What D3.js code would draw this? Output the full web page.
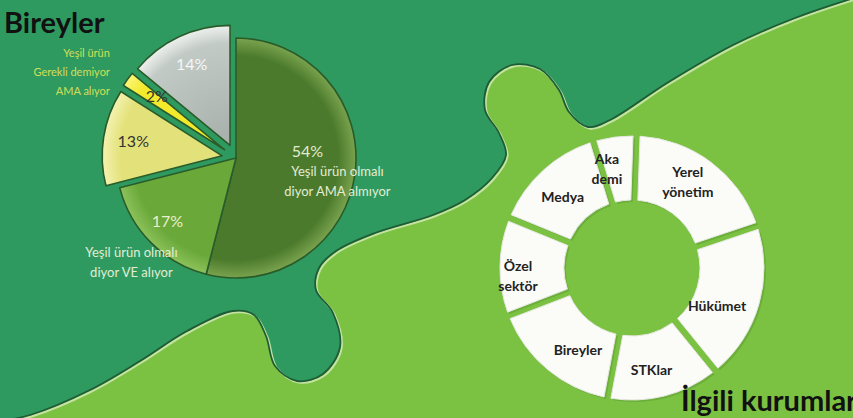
<!DOCTYPE html>
<html>
<head>
<meta charset="utf-8">
<script src="https://cdn.jsdelivr.net/npm/d3@7"></script>
<style>
  body { margin: 0; background: #2e9a60; }
  svg { display: block; font-family: Lato, "Open Sans", sans-serif; }
</style>
</head>
<body>
<svg id="chart" width="853" height="418"></svg>
<script>
// pie: Bireyler
var pieKeys = ["olmali_almiyor", "olmali_aliyor", "diger13", "gerekli_degil_aliyor", "diger14"];
var pieValues = [54, 17, 13, 2, 14];
var pieDesc = [["Yeşil ürün olmalı", "diyor AMA almıyor"], ["Yeşil ürün olmalı", "diyor VE alıyor"], [], ["Yeşil ürün", "Gerekli demiyor", "AMA alıyor"], []];

// donut: İlgili kurumlar (clockwise from top)
var orgLabels = [["Aka", "demi"], ["Yerel", "yönetim"], ["Hükümet"], ["STKlar"], ["Bireyler"], ["Özel", "sektör"], ["Medya"]];
var orgValues = [16, 70, 70, 49, 58, 42, 50];

var svg = d3.select("#chart");
var W = 853, H = 418;

// background puzzle shapes
svg.append("rect").attr("width", W).attr("height", H).attr("fill", "#2e9a60");
var edge = [[-5, 422], [30, 415], [90, 390], [140, 361], [187, 331], [233, 311], [254, 315], [266, 336],
    [275, 366], [297, 381], [323, 374], [340, 347], [333, 313], [316, 290], [319, 268], [336, 251],
    [375, 233], [433, 215], [465, 200], [492, 178], [506, 155], [499, 133], [485, 110], [489, 82],
    [512, 65], [540, 69], [559, 90], [569, 112], [588, 127], [610, 120], [667, 83], [733, 45], [795, 18], [860, -4]];
var edgeLine = d3.line().curve(d3.curveCatmullRom.alpha(0.5));
svg.append("path")
    .attr("d", edgeLine(edge) + "L860,425L-5,425Z")
    .attr("fill", "#7cc242");
svg.append("path")
    .attr("d", edgeLine(edge))
    .attr("fill", "none").attr("stroke", "#c4e3a4").attr("stroke-width", 2)
    .attr("transform", "translate(1.5,1.5)");
svg.append("path")
    .attr("d", edgeLine(edge))
    .attr("fill", "none").attr("stroke", "#1e5c36").attr("stroke-width", 1.8);

// ---------- pie ----------
var cx = 236, cy = 158, R = 120;
var pieColors = ["#4b7a2c", "#6aa83a", "#e3e27a", "#f3ea2c", "#c2cac6"];
var rimColors = ["#7aa34e", "#8cc25a", "#f4f2b0", "#fbf57a", "#eef1ee"];
var explode = [0, 0, 14, 14, 14];

var defs = svg.append("defs");
pieKeys.forEach(function (k, i) {
    var g = defs.append("radialGradient").attr("id", "g_" + k)
        .attr("gradientUnits", "userSpaceOnUse").attr("cx", 0).attr("cy", 0).attr("r", R);
    g.append("stop").attr("offset", "0%").attr("stop-color", i == 4 ? "#a7afab" : pieColors[i]);
    g.append("stop").attr("offset", "85%").attr("stop-color", pieColors[i]);
    g.append("stop").attr("offset", "100%").attr("stop-color", rimColors[i]);
});

var pie = d3.pie().sort(null).value(function (d) { return d; });
var arcs = pie(pieValues);
var arc = d3.arc().innerRadius(0).outerRadius(R);
var pieG = svg.append("g").attr("transform", "translate(" + cx + "," + cy + ")");

function offset(d, i, r) {
    var a = (d.startAngle + d.endAngle) / 2;
    return [Math.sin(a) * r, -Math.cos(a) * r];
}

pieG.selectAll("path.slice").data(arcs).enter().append("path")
    .attr("class", "slice")
    .attr("transform", function (d, i) { var o = offset(d, i, explode[i]); return "translate(" + o[0] + "," + o[1] + ")"; })
    .attr("d", arc)
    .attr("fill", function (d, i) { return "url(#g_" + pieKeys[i] + ")"; })
    .attr("stroke", "#2a5c2a").attr("stroke-width", 1.6).attr("stroke-linejoin", "round");

// label layout
var pctColors = ["#e2ead0", "#e8f0cc", "#333333", "#333333", "#f6f6f6"];
var pctRadius = [72, 90, 90, 90, 90];
var pctShift = [[0, -16], [-5, 0], [0, 0], [5, 0], [0, 0]];
var descLayout = [
    { dx: 30, dy: [20, 40], anchor: "middle", color: "#e4ecd4", size: 13 },
    { dx: -36, dy: [31, 51], anchor: "middle", color: "#e4ecd4", size: 13 },
    null,
    { dx: -47, dy: [-44, -25, -6], anchor: "end", color: "#d2de58", size: 11 },
    null
];

arcs.forEach(function (d, i) {
    var e = offset(d, i, explode[i]);
    var c = offset(d, i, pctRadius[i]);
    var x = e[0] + c[0] + pctShift[i][0], y = e[1] + c[1] + pctShift[i][1];
    pieG.append("text").attr("x", x).attr("y", y).attr("dy", "0.35em")
        .attr("text-anchor", "middle").attr("font-size", 16)
        .attr("fill", pctColors[i]).text(pieValues[i] + "%");
    var L = descLayout[i];
    if (!L) return;
    pieDesc[i].forEach(function (line, j) {
        pieG.append("text").attr("x", x + L.dx).attr("y", y + L.dy[j]).attr("dy", "0.35em")
            .attr("text-anchor", L.anchor).attr("font-size", L.size)
            .attr("fill", L.color).text(line);
    });
});

svg.append("text").attr("x", 4).attr("y", 33)
    .attr("font-size", 29).attr("font-weight", "bold").attr("fill", "#111")
    .text("Bireyler");

// ---------- donut ----------
var dx = 632, dy = 268;
var donut = d3.pie().sort(null).value(function (d) { return d; })
    .startAngle(-17 * Math.PI / 180).endAngle(343 * Math.PI / 180)
    .padAngle(0.07);
var dArc = d3.arc().innerRadius(68).outerRadius(132).padRadius(100);
var dG = svg.append("g").attr("transform", "translate(" + dx + "," + dy + ")");
var dArcs = donut(orgValues);

dG.selectAll("path.shadow").data(dArcs).enter().append("path")
    .attr("d", dArc).attr("fill", "#4e8a2c").attr("opacity", 0.35)
    .attr("transform", "translate(2,2)");
dG.selectAll("path.seg").data(dArcs).enter().append("path")
    .attr("class", "seg").attr("d", dArc)
    .attr("fill", "#fbfbf8").attr("stroke", "#e6e8e2").attr("stroke-width", 1);

// hand nudges so labels sit where the original puts them
var nudge = [[-12, 0], [-4, -6], [-11, 10], [-5, 5], [10, 5], [-14, 9], [-2, 3]];
dArcs.forEach(function (d, i) {
    var a = (d.startAngle + d.endAngle) / 2;
    var x = Math.sin(a) * 100 + nudge[i][0], y = -Math.cos(a) * 100 + nudge[i][1];
    var lines = orgLabels[i];
    lines.forEach(function (line, j) {
        dG.append("text").attr("x", x)
            .attr("y", y + (j - (lines.length - 1) / 2) * 20).attr("dy", "0.35em")
            .attr("text-anchor", "middle").attr("font-size", 14).attr("font-weight", "bold")
            .attr("fill", "#222").text(line);
    });
});

svg.append("text").attr("x", 681).attr("y", 411)
    .attr("font-size", 29).attr("font-weight", "bold").attr("fill", "#111")
    .text("İlgili kurumlar");
</script>
</body>
</html>
